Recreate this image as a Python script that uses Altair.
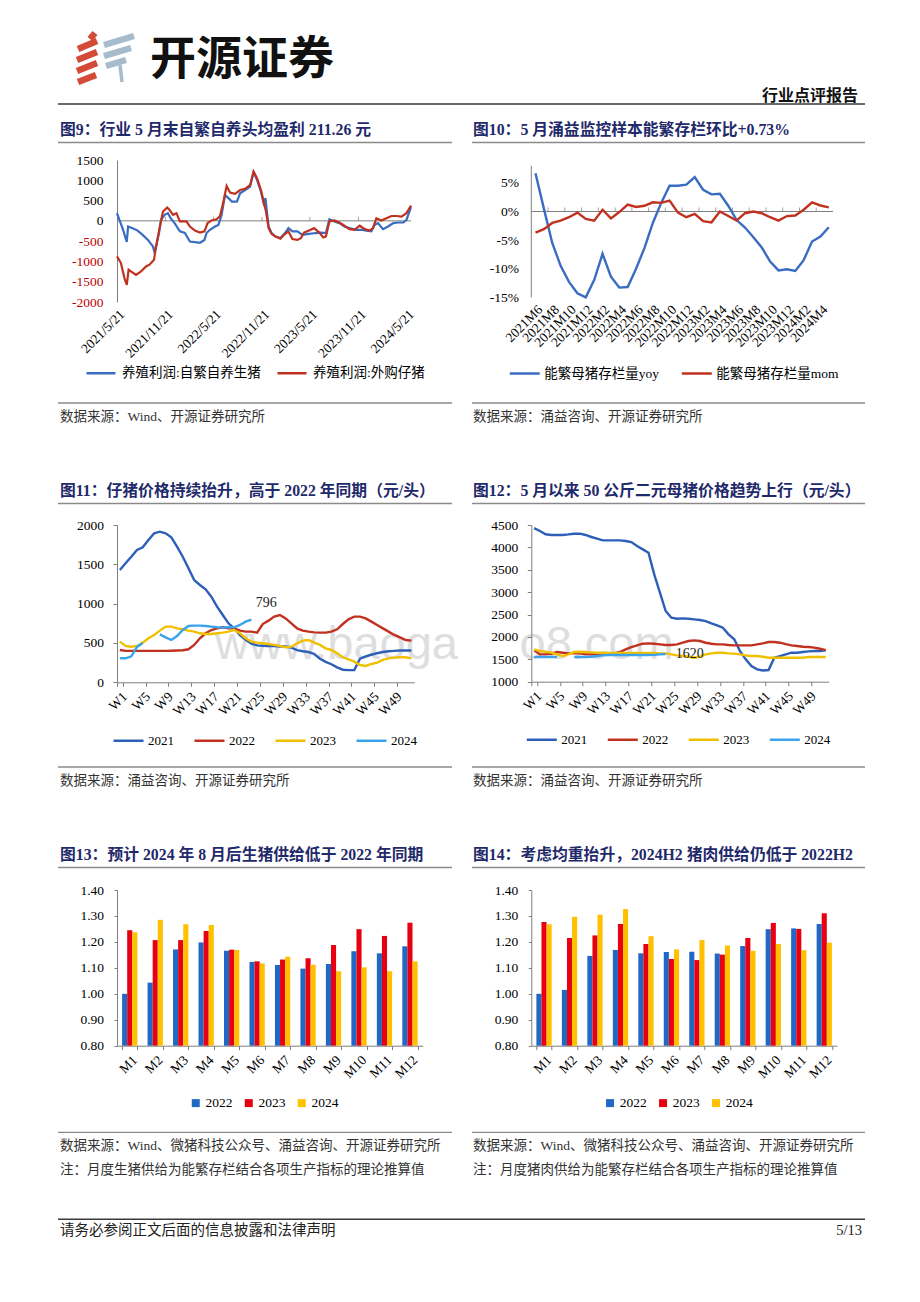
import altair as alt
import pandas as pd

FONT = "Liberation Serif, Noto Sans CJK SC"
CJK = "Noto Sans CJK SC"
NAVY = "#1f2a6b"
AX = "#7f7f7f"
LGRAY = "#8a8a8a"
TXT = "#333333"
BLUE = "#3a6cc2"
RED = "#c0321f"
NEGRED = "#c00000"
C21, C22, C23, C24 = "#2d5fb8", "#c0321f", "#f0c000", "#3aa3ec"
B22, B23, B24 = "#2167c4", "#e60012", "#ffc000"

# ---------------- page texts ----------------
company = "开源证券"
report_type = "行业点评报告"
titles = ["图9：行业 5 月末自繁自养头均盈利 211.26 元",
          "图10：5 月涌益监控样本能繁存栏环比+0.73%",
          "图11：仔猪价格持续抬升，高于 2022 年同期（元/头）",
          "图12：5 月以来 50 公斤二元母猪价格趋势上行（元/头）",
          "图13：预计 2024 年 8 月后生猪供给低于 2022 年同期",
          "图14：考虑均重抬升，2024H2 猪肉供给仍低于 2022H2"]
sources = ["数据来源：Wind、开源证券研究所",
           "数据来源：涌益咨询、开源证券研究所",
           "数据来源：涌益咨询、开源证券研究所",
           "数据来源：涌益咨询、开源证券研究所",
           "数据来源：Wind、微猪科技公众号、涌益咨询、开源证券研究所",
           "数据来源：Wind、微猪科技公众号、涌益咨询、开源证券研究所"]
notes = ["注：月度生猪供给为能繁存栏结合各项生产指标的理论推算值",
         "注：月度猪肉供给为能繁存栏结合各项生产指标的理论推算值"]
disclaimer = "请务必参阅正文后面的信息披露和法律声明"
page_no = "5/13"
watermark = "www.baogao8.com"

# ---------------- Figure 9 data ----------------
p9_series = ["养殖利润:自繁自养生猪", "养殖利润:外购仔猪"]
p9_blue_dates = ["2021-05-21", "2021-05-30", "2021-06-11", "2021-06-27", "2021-07-02", "2021-07-19",
                 "2021-08-07", "2021-08-26", "2021-09-15", "2021-10-04", "2021-10-10", "2021-10-16",
                 "2021-10-27", "2021-11-04", "2021-11-17", "2021-11-30", "2021-12-10", "2021-12-25",
                 "2022-01-14", "2022-02-02", "2022-02-21", "2022-03-12", "2022-03-31", "2022-04-17",
                 "2022-04-25", "2022-05-08", "2022-05-27", "2022-06-09", "2022-06-21", "2022-07-04",
                 "2022-07-17", "2022-07-30", "2022-08-18", "2022-08-30", "2022-09-18", "2022-10-07",
                 "2022-10-20", "2022-11-02", "2022-11-17", "2022-11-27", "2022-12-04", "2022-12-10",
                 "2022-12-16", "2022-12-27", "2023-01-11", "2023-01-30", "2023-02-16", "2023-03-01",
                 "2023-03-16", "2023-04-04", "2023-04-23", "2023-05-18", "2023-06-13", "2023-07-02",
                 "2023-07-21", "2023-08-03", "2023-08-22", "2023-09-10", "2023-09-29", "2023-10-18",
                 "2023-11-13", "2023-12-02", "2023-12-21", "2024-01-09", "2024-01-21", "2024-02-03",
                 "2024-02-22", "2024-03-12", "2024-04-01", "2024-04-20", "2024-05-09", "2024-05-21",
                 "2024-06-07"]
p9_blue = [190, 25, -180, -520, -140, -180,
           -240, -345, -470, -630, -770, -630,
           -300, 25, 150, 190, 65, -55,
           -260, -300, -510, -525, -540, -470,
           -300, -220, -140, -100, 150, 640,
           560, 475, 475, 680, 760, 845,
           1200, 1010, 720, 435, 560, 190,
           -140, -300, -385, -425, -300, -180,
           -260, -260, -345, -320, -300, -290,
           -300, 40, -15, -55, -140, -180,
           -220, -220, -240, -260, -100, -55,
           -205, -140, -55, -40, -40, 25,
           340]
p9_red_dates = ["2021-05-21", "2021-06-05", "2021-06-18", "2021-06-27", "2021-07-04", "2021-07-13",
                "2021-08-01", "2021-08-20", "2021-09-08", "2021-09-21", "2021-10-08", "2021-10-16",
                "2021-10-29", "2021-11-11", "2021-11-27", "2021-12-06", "2021-12-19", "2022-01-01",
                "2022-01-14", "2022-01-27", "2022-02-08", "2022-02-21", "2022-03-12", "2022-03-31",
                "2022-04-17", "2022-04-29", "2022-05-14", "2022-06-02", "2022-06-15", "2022-06-28",
                "2022-07-10", "2022-07-23", "2022-08-11", "2022-08-30", "2022-09-18", "2022-10-07",
                "2022-10-20", "2022-11-02", "2022-11-17", "2022-11-27", "2022-12-06", "2022-12-16",
                "2022-12-27", "2023-01-11", "2023-01-30", "2023-02-12", "2023-03-01", "2023-03-16",
                "2023-04-04", "2023-04-17", "2023-04-29", "2023-05-18", "2023-06-06", "2023-06-26",
                "2023-07-11", "2023-07-21", "2023-08-03", "2023-08-22", "2023-09-10", "2023-09-29",
                "2023-10-18", "2023-11-06", "2023-11-26", "2023-12-15", "2024-01-02", "2024-01-15",
                "2024-01-28", "2024-02-16", "2024-03-06", "2024-03-25", "2024-04-13", "2024-05-02",
                "2024-05-21", "2024-06-07"]
p9_red = [-875, -1040, -1410, -1575, -1205, -1245,
          -1330, -1245, -1125, -1080, -960, -630,
          -180, 230, 330, 270, 150, 190,
          -15, -15, -15, -140, -240, -290,
          -260, -55, 10, 40, 120, 475,
          860, 700, 665, 760, 790, 885,
          1215, 1050, 760, 475, 230, -180,
          -320, -385, -440, -345, -260, -450,
          -470, -425, -290, -240, -180, -290,
          -410, -385, -15, 10, -40, -120,
          -205, -220, -120, -205, -240, -180,
          65, 10, 65, 120, 120, 105,
          190, 375]
p9_xticks = ["2021-05-21", "2021-11-21", "2022-05-21", "2022-11-21", "2023-05-21", "2023-11-21", "2024-05-21"]
p9_xdomain = ["2021-05-21", "2024-06-07"]
p9_yticks = [-2000, -1500, -1000, -500, 0, 500, 1000, 1500]

# ---------------- Figure 10 data ----------------
p10_series = ["能繁母猪存栏量yoy", "能繁母猪存栏量mom"]
p10_months = ["2021M6", "2021M7", "2021M8", "2021M9", "2021M10", "2021M11", "2021M12",
              "2022M1", "2022M2", "2022M3", "2022M4", "2022M5", "2022M6", "2022M7", "2022M8",
              "2022M9", "2022M10", "2022M11", "2022M12", "2023M1", "2023M2", "2023M3", "2023M4",
              "2023M5", "2023M6", "2023M7", "2023M8", "2023M9", "2023M10", "2023M11", "2023M12",
              "2024M1", "2024M2", "2024M3", "2024M4", "2024M5"]
p10_yoy = [6.7, 0.5, -5.5, -9.5, -12.3, -14.3, -15.0, -12.0, -7.4, -11.4, -13.3, -13.2,
           -10.0, -6.4, -2.0, 1.5, 4.5, 4.5, 4.7, 6.0, 3.8, 3.0, 3.1, 1.0,
           -1.5, -2.8, -4.5, -6.3, -8.75, -10.3, -10.1, -10.4, -8.5, -5.25, -4.4, -2.75]
p10_mom = [-3.7, -3.1, -2.0, -1.6, -1.0, -0.2, -1.3, -1.6, 0.3, -1.2, -0.1, 1.2,
           0.8, 1.0, 1.6, 1.5, 1.9, -0.2, -1.0, -0.4, -1.7, -1.9, 0.0, -0.8,
           -1.6, -0.3, 0.0, -0.3, -1.0, -1.6, -0.8, -0.7, 0.3, 1.6, 1.05, 0.73]
p10_yticks = [-15, -10, -5, 0, 5]
p10_ydomain = [-15, 9]
p10_axis_top = 8

# ---------------- Figure 11 / 12 data ----------------
weeks = ["W%d" % i for i in range(1, 53)]
week_ticks = weeks[::4]
years4 = ["2021", "2022", "2023", "2024"]
p11_2021 = [1428, 1513, 1597, 1682, 1716, 1809, 1894, 1915, 1894, 1843,
            1725, 1597, 1449, 1300, 1237, 1182, 1089, 962, 856, 750,
            686, 600, 540, 490, 470, 465, 460, 460, 455, 455,
            440, 410, 395, 385, 360, 300, 260, 230, 190, 160,
            155, 155, 300, 330, 350, 370, 385, 395, 400, 405,
            405, 405]
p11_2022 = [411, 400, 400, 400, 400, 400, 400, 400, 400, 402,
            405, 408, 420, 475, 560, 623, 665, 686, 700, 686,
            686, 657, 644, 644, 631, 741, 784, 835, 856, 813,
            750, 686, 657, 644, 635, 631, 631, 644, 674, 741,
            801, 835, 835, 813, 771, 729, 686, 644, 602, 572,
            538, 530]
p11_2023 = [517, 462, 453, 462, 504, 560, 602, 657, 708, 708,
            686, 674, 657, 644, 623, 614, 614, 623, 631, 644,
            665, 623, 560, 517, 504, 496, 487, 475, 462, 445,
            453, 496, 530, 538, 504, 475, 432, 411, 369, 318,
            292, 263, 220, 208, 233, 250, 284, 305, 314, 318,
            318, 305]
p11_2024 = [305, 305, 330, 450, 500, None, None, 610, 572, 538,
            589, 665, 716, 720, 720, 716, 708, 700, 695, 700,
            700, 729, 771, 796]
p11_yticks = [0, 500, 1000, 1500, 2000]
p11_note = ["W24", 796]

p12_2021 = [4430, 4366, 4292, 4277, 4277, 4277, 4290, 4306, 4306, 4277,
            4232, 4195, 4157, 4157, 4157, 4157, 4143, 4120, 4031, 3956,
            3882, 3398, 2988, 2579, 2430, 2407, 2415, 2407, 2393, 2378,
            2355, 2303, 2258, 2206, 2057, 1946, 1685, 1499, 1350, 1276,
            1250, 1260, 1536, 1573, 1610, 1648, 1648, 1663, 1678, 1685,
            1685, 1700]
p12_2022 = [1700, 1610, 1610, 1625, 1663, 1648, 1633, 1633, 1633, 1610,
            1610, 1610, 1610, 1610, 1633, 1663, 1722, 1774, 1812, 1849,
            1856, 1849, 1834, 1819, 1819, 1834, 1871, 1908, 1923, 1908,
            1871, 1849, 1834, 1834, 1819, 1812, 1812, 1812, 1812, 1834,
            1856, 1886, 1886, 1871, 1841, 1812, 1797, 1782, 1774, 1760,
            1737, 1707]
p12_2023 = [1722, 1685, 1670, 1648, 1610, 1573, 1610, 1663, 1670, 1663,
            1655, 1648, 1648, 1640, 1640, 1640, 1640, 1640, 1640, 1640,
            1640, 1640, 1633, 1633, 1610, 1588, 1573, 1558, 1536, 1558,
            1610, 1633, 1648, 1648, 1633, 1626, 1610, 1588, 1573, 1573,
            1558, 1536, 1536, 1536, 1536, 1536, 1536, 1536, 1551, 1551,
            1551, 1551]
p12_2024 = [1551, 1551, 1551, 1551, 1551, None, None, 1551, 1551, 1551,
            1558, 1573, 1588, 1595, 1595, 1595, 1595, 1595, 1595, 1595,
            1595, 1600, 1610, 1620]
p12_yticks = [1000, 1500, 2000, 2500, 3000, 3500, 4000, 4500]
p12_note = ["W24", 1620]

# ---------------- Figure 13 / 14 data ----------------
months12 = ["M1", "M2", "M3", "M4", "M5", "M6", "M7", "M8", "M9", "M10", "M11", "M12"]
years3 = ["2022", "2023", "2024"]
p13_2022 = [1.000, 1.043, 1.171, 1.198, 1.166, 1.123, 1.111, 1.097, 1.115, 1.164, 1.156, 1.183]
p13_2023 = [1.245, 1.207, 1.207, 1.242, 1.170, 1.125, 1.132, 1.137, 1.188, 1.249, 1.223, 1.274]
p13_2024 = [1.237, 1.285, 1.268, 1.265, 1.169, 1.117, 1.143, 1.112, 1.087, 1.102, 1.087, 1.125]
p14_2022 = [1.000, 1.015, 1.146, 1.169, 1.156, 1.161, 1.162, 1.155, 1.184, 1.249, 1.252, 1.269]
p14_2023 = [1.277, 1.215, 1.225, 1.269, 1.192, 1.134, 1.130, 1.151, 1.215, 1.273, 1.250, 1.310]
p14_2024 = [1.268, 1.297, 1.305, 1.327, 1.222, 1.171, 1.207, 1.186, 1.166, 1.192, 1.168, 1.197]
p13_yticks = [0.8, 0.9, 1.0, 1.1, 1.2, 1.3, 1.4]

# ---------------- layout (page pixels) ----------------
LX, RX = 117.0, 531.0
COLW = 305.7
D0_TOP, P1_TOP, D1_TOP, P2_TOP, D2_TOP, P3_TOP, D3_TOP = 8.0, 157.0, 299.0, 521.7, 679.0, 886.0, 1041.7

NEG_EXPR = "(datum.value < 0 ? '-' : '') + format(abs(datum.value), 'd')"
PCT_EXPR = "(datum.value < 0 ? '-' : '') + format(abs(datum.value), 'd') + '%'"
LAB = dict(labelFont=FONT, labelFontSize=13.5, labelColor="black", labelOverlap=False, labelFlush=False)


def dt(s):
    y, m, d = s.split("-")
    return alt.DateTime(year=int(y), month=int(m), date=int(d))


def line_legend(x, y, size, colpad, offset=4, fs=13.5):
    return alt.Legend(orient="none", legendX=x, legendY=y, direction="horizontal", title=None,
                      symbolType="stroke", symbolSize=size, symbolStrokeWidth=2.5,
                      labelFont=FONT, labelFontSize=fs, labelColor="black", labelOffset=offset,
                      columnPadding=colpad, padding=0, labelLimit=400)


def bar_legend(x, y):
    return alt.Legend(orient="none", legendX=x, legendY=y, direction="horizontal", title=None,
                      symbolType="square", symbolSize=64, symbolStrokeWidth=0,
                      labelFont=FONT, labelFontSize=13.5, labelColor="black", labelOffset=3,
                      columnPadding=9, padding=0)


def one(**kw):
    return pd.DataFrame({k: [v] for k, v in kw.items()})


# ---------------- Figure 9 ----------------
xs9 = alt.Scale(domain=[dt(p9_xdomain[0]), dt(p9_xdomain[1])])
ys9 = alt.Scale(domain=[p9_yticks[0], p9_yticks[-1]], nice=False, zero=False)
ax9x = alt.Axis(values=[dt(s) for s in p9_xticks], format="%Y/%-m/%-d", labelAngle=-45,
                domain=False, ticks=False, grid=False, title=None, labelPadding=5, **LAB)
ax9y = alt.Axis(values=p9_yticks, grid=False, ticks=False, title=None, domainColor=AX,
                labelPadding=14, labelExpr=NEG_EXPR, labelFont=FONT, labelFontSize=13.5,
                labelFlush=False, labelOverlap=False,
                labelColor={"condition": {"test": "datum.value < 0", "value": NEGRED}, "value": "black"})
df9 = pd.concat([pd.DataFrame({"date": p9_blue_dates, "value": p9_blue, "series": p9_series[0]}),
                 pd.DataFrame({"date": p9_red_dates, "value": p9_red, "series": p9_series[1]})])
zero9 = alt.Chart(one(value=0)).mark_rule(color=AX, strokeWidth=1).encode(
    y=alt.Y("value:Q", scale=ys9, axis=ax9y))
tick9 = alt.Chart(pd.DataFrame({"date": p9_xticks[1:], "value": [0] * (len(p9_xticks) - 1)})).mark_tick(
    orient="vertical", size=4, thickness=1, color=AX, yOffset=-2).encode(
    x=alt.X("date:T", scale=xs9, axis=ax9x), y=alt.Y("value:Q", scale=ys9, axis=ax9y))
lines9 = alt.Chart(df9).mark_line(strokeWidth=2.2).encode(
    x=alt.X("date:T", scale=xs9, axis=ax9x),
    y=alt.Y("value:Q", scale=ys9, axis=ax9y),
    color=alt.Color("series:N", scale=alt.Scale(domain=p9_series, range=[BLUE, RED]),
                    legend=line_legend(-32, 197, 841, 11, 5)),
)
p9 = alt.layer(zero9, tick9, lines9).properties(width=294, height=142)

# ---------------- Figure 10 ----------------
xs10 = alt.Scale(type="band", domain=p10_months, paddingInner=0, paddingOuter=0)
ys10 = alt.Scale(domain=p10_ydomain, nice=False, zero=False)
ax10x = alt.Axis(values=p10_months[::2], labelAngle=-45, domain=False, ticks=False, grid=False,
                 title=None, labelPadding=5, **LAB)
ax10y = alt.Axis(values=p10_yticks, grid=False, ticks=False, domain=False, title=None,
                 labelPadding=12.7, labelExpr=PCT_EXPR, **LAB)
df10 = pd.DataFrame({"m": p10_months + p10_months, "v": p10_yoy + p10_mom,
                     "s": [p10_series[0]] * len(p10_yoy) + [p10_series[1]] * len(p10_mom)})
axis10 = alt.Chart(one(v=p10_yticks[0], b=p10_axis_top)).mark_rule(color=AX, strokeWidth=1).encode(
    x=alt.value(0), y=alt.Y("v:Q", scale=ys10, axis=ax10y), y2="b:Q")
zero10 = alt.Chart(one(v=0)).mark_rule(color=AX, strokeWidth=1).encode(
    y=alt.Y("v:Q", scale=ys10, axis=ax10y))
tick10 = alt.Chart(pd.DataFrame({"m": p10_months[2::2], "v": [0] * len(p10_months[2::2])})).mark_tick(
    orient="vertical", size=4, thickness=1, color=AX, yOffset=-2).encode(
    x=alt.X("m:N", scale=xs10, bandPosition=0, axis=ax10x, sort=p10_months),
    y=alt.Y("v:Q", scale=ys10, axis=ax10y))
lines10 = alt.Chart(df10).mark_line(strokeWidth=2.4).encode(
    x=alt.X("m:N", scale=xs10, sort=p10_months, axis=ax10x),
    y=alt.Y("v:Q", scale=ys10, axis=ax10y),
    color=alt.Color("s:N", scale=alt.Scale(domain=p10_series, range=[BLUE, RED]),
                    legend=line_legend(-23, 197, 900, 17, 3)),
)
p10 = alt.layer(axis10, zero10, tick10, lines10).properties(width=301.7, height=137.3)


# ---------------- Figure 11 / 12 ----------------
def week_frame(series_lists):
    rows = []
    for year, vals in zip(years4, series_lists):
        seg = 0
        for w, v in zip(weeks, vals):
            if v is None:
                seg += 1
                continue
            rows.append({"week": w, "value": v, "year": year, "seg": "%s-%d" % (year, seg)})
    return pd.DataFrame(rows)


def week_chart(series_lists, yticks, height, note, note_dx, note_dy, note_align, legx, legy, extra=None):
    xs = alt.Scale(type="band", domain=weeks, paddingInner=0, paddingOuter=0)
    ys = alt.Scale(domain=[yticks[0], yticks[-1]], nice=False, zero=False)
    axx = alt.Axis(values=week_ticks, labelAngle=-45, tickBand="extent", ticks=True,
                   tickSize=4, tickColor=AX, domainColor=AX, grid=False, title=None,
                   labelPadding=3, **LAB)
    axy = alt.Axis(values=yticks, format="d", grid=False, ticks=True, tickSize=4, tickColor=AX,
                   domainColor=AX, title=None, labelPadding=9.5, **LAB)
    lines = alt.Chart(week_frame(series_lists)).mark_line(strokeWidth=2.4).encode(
        x=alt.X("week:N", scale=xs, sort=weeks, axis=axx),
        y=alt.Y("value:Q", scale=ys, axis=axy),
        color=alt.Color("year:N", scale=alt.Scale(domain=years4, range=[C21, C22, C23, C24]),
                        legend=line_legend(legx, legy, 900, 15, 3, 13)),
        detail="seg:N",
    )
    ann = alt.Chart(one(week=note[0], value=note[1])).mark_text(
        dx=note_dx, dy=note_dy, align=note_align, baseline="middle", fontSize=14, font=FONT,
        color="#222222").encode(
        x=alt.X("week:N", scale=xs, sort=weeks, axis=axx), y=alt.Y("value:Q", scale=ys, axis=axy),
        text=alt.Text("value:Q", format="d"))
    layers = (list(extra) if extra is not None else []) + [lines, ann]
    return alt.layer(*layers).properties(width=297.3, height=height)


# the source's watermark runs behind the axis labels of Fig.12; it is split around them
wm_parts = [(watermark[:9], 215), (watermark[9:], 519.5)]
wm = [alt.Chart(one(t=txt)).mark_text(
    align="left", baseline="alphabetic", fontSize=47, font="Liberation Sans", color="#dedede").encode(
    x=alt.value(x0 - LX), y=alt.value(656 - P2_TOP), text="t:N") for txt, x0 in wm_parts]
p11 = week_chart([p11_2021, p11_2022, p11_2023, p11_2024], p11_yticks, 157.3, p11_note, 15, -17,
                 "center", -5, 199, extra=wm)
p12 = week_chart([p12_2021, p12_2022, p12_2023, p12_2024], p12_yticks, 156.7, p12_note, 10, 0,
                 "left", -6, 198)


# ---------------- Figure 13 / 14 ----------------
def bar_chart(a, b, c, legx, legy):
    df = pd.DataFrame({"m": months12 * 3, "year": [years3[0]] * 12 + [years3[1]] * 12 + [years3[2]] * 12,
                       "v": a + b + c})
    ys = alt.Scale(domain=[p13_yticks[0], p13_yticks[-1]], nice=False, zero=False)
    return alt.Chart(df).mark_bar().encode(
        x=alt.X("m:N", sort=months12,
                scale=alt.Scale(domain=months12, paddingInner=0.4, paddingOuter=0.2),
                axis=alt.Axis(labelAngle=-45, tickBand="extent", ticks=True, tickSize=4, tickColor=AX,
                              domainColor=AX, grid=False, title=None, labelPadding=3, **LAB)),
        xOffset=alt.XOffset("year:N", sort=years3, scale=alt.Scale(domain=years3, paddingInner=0)),
        y=alt.Y("v:Q", scale=ys,
                axis=alt.Axis(values=p13_yticks, format=".2f", grid=False, ticks=True, tickSize=3,
                              tickColor=AX, domainColor=AX, title=None, labelPadding=10.5, **LAB)),
        y2=alt.datum(p13_yticks[0]),
        color=alt.Color("year:N", scale=alt.Scale(domain=years3, range=[B22, B23, B24]),
                        legend=bar_legend(legx, legy)),
    ).properties(width=305.7, height=155.7)


p13 = bar_chart(p13_2022, p13_2023, p13_2024, 72, 206)
p14 = bar_chart(p14_2022, p14_2023, p14_2024, 72, 206)


# ---------------- decoration bands ----------------
def T(txt, x, y, top, size, color=TXT, weight="normal", align="left", font=FONT):
    return alt.Chart(one(t=txt)).mark_text(
        align=align, baseline="middle", fontSize=size, color=color, fontWeight=weight, font=font).encode(
        x=alt.value(x - LX), y=alt.value(y - top), text="t:N")


def R(x1, x2, y1, y2, top, color, w, cap="butt"):
    return alt.Chart(one(a=0)).mark_rule(color=color, strokeWidth=w, strokeCap=cap).encode(
        x=alt.value(x1 - LX), x2=alt.value(x2 - LX), y=alt.value(y1 - top), y2=alt.value(y2 - top))


def panel_titles(i, y, top):
    return [T(titles[i], 60, y, top, 15.8, NAVY, "bold"), T(titles[i + 1], 473, y, top, 15.8, NAVY, "bold"),
            R(58, 452, y + 12.5, y + 12.5, top, LGRAY, 1.3), R(472, 865, y + 12.5, y + 12.5, top, LGRAY, 1.3)]


def source_block(i, y, top):
    return [R(58, 452, y - 14, y - 14, top, LGRAY, 1.3), R(472, 865, y - 14, y - 14, top, LGRAY, 1.3),
            T(sources[i], 60, y, top, 13.5), T(sources[i + 1], 473, y, top, 13.5)]


anchor = alt.Chart(one(a=0)).mark_rule(strokeOpacity=0).encode(
    x=alt.value(-LX + 8), x2=alt.value(-LX + 20), y=alt.value(60), y2=alt.value(60))

logo_red = [(78, 46, 97, 38), (77, 57, 97, 49), (77, 68, 97, 60), (78, 79, 96, 72), (90, 36, 95, 30)]
logo_grey = [(104, 42, 134, 33), (104, 53, 131, 45), (106, 63, 126, 57)]
logo = [R(a, c, b, d, D0_TOP, "#d34b37", 6.5) for a, b, c, d in logo_red] + \
       [R(a, c, b, d, D0_TOP, "#a6bbcc", 6.5) for a, b, c, d in logo_grey] + \
       [R(120, 122, 62, 79, D0_TOP, "#a6bbcc", 3.5)]

D0 = alt.layer(anchor, *logo,
               T(company, 150, 56.5, D0_TOP, 46, "#111111", "bold", font=CJK),
               T(report_type, 858, 92.5, D0_TOP, 16, "#111111", "bold", "right", CJK),
               R(58, 865, 101, 101, D0_TOP, "#3a3a3a", 1.5),
               *panel_titles(0, 127, D0_TOP)).properties(width=100, height=P1_TOP - D0_TOP)
D1 = alt.layer(*source_block(0, 414, D1_TOP), *panel_titles(2, 488, D1_TOP)).properties(
    width=100, height=P2_TOP - D1_TOP)
D2 = alt.layer(*source_block(2, 777, D2_TOP), *panel_titles(4, 851, D2_TOP)).properties(
    width=100, height=P3_TOP - D2_TOP)
D3 = alt.layer(*source_block(4, 1142, D3_TOP),
               T(notes[0], 60, 1166, D3_TOP, 13.5), T(notes[1], 473, 1166, D3_TOP, 13.5),
               R(58, 865, 1215, 1215, D3_TOP, "#3a3a3a", 1.5),
               T(disclaimer, 60, 1227, D3_TOP, 14.5, "#222222"),
               T(page_no, 862, 1227, D3_TOP, 14.5, "#222222", align="right")).properties(
    width=100, height=200)

E = alt.Chart(one(a=0)).mark_point(opacity=0).encode(x=alt.value(0), y=alt.value(0)).properties(
    width=1, height=1)

page = alt.concat(D0, E, p9, p10, D1, E, p11, p12, D2, E, p13, p14, D3,
                  columns=2, spacing={"row": 0, "column": RX - LX - COLW},
                  bounds="flush", align="each").properties(padding=0)
page = page.resolve_scale(x="independent", y="independent", color="independent",
                          xOffset="independent").resolve_legend(color="independent")
page = page.configure(font=FONT).configure_view(strokeWidth=0)
page.save("out.html", embed_options={"renderer": "svg", "actions": False})
